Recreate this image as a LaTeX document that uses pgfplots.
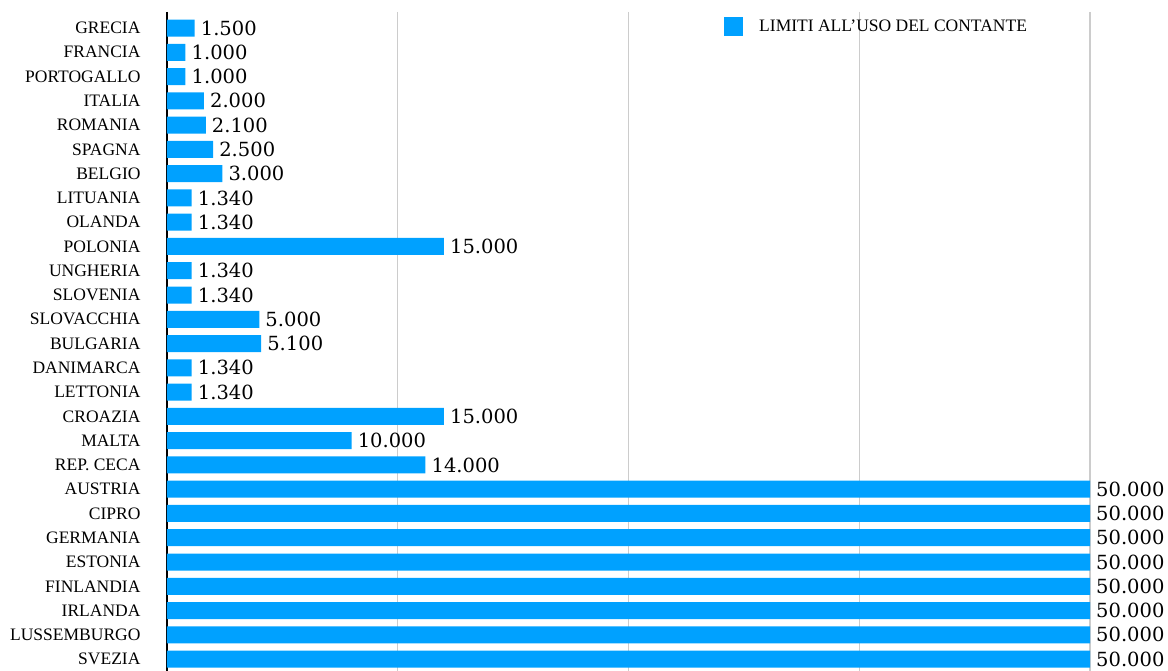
\documentclass[border=0pt]{standalone}
\usepackage{fontspec}
\usepackage{pgfplots}
\usepackage{pgfplotstable}
\pgfplotsset{compat=1.18}
\setmainfont{Liberation Serif}
\newfontfamily\numfont{DejaVu Serif}
\definecolor{barblue}{RGB}{0,161,255}
\definecolor{gridgray}{RGB}{204,204,204}
\pgfplotstableread[col sep=comma]{
idx,val
0,1500
1,1000
2,1000
3,2000
4,2100
5,2500
6,3000
7,1340
8,1340
9,15000
10,1340
11,1340
12,5000
13,5100
14,1340
15,1340
16,15000
17,10000
18,14000
19,50000
20,50000
21,50000
22,50000
23,50000
24,50000
25,50000
26,50000
}\datatable
\begin{document}
\begin{tikzpicture}
\begin{axis}[
  scale only axis,
  width=923pt, height=659pt,
  at={(0,0)}, anchor=south west,
  xbar, bar width=17pt,
  xmin=0, xmax=50000,
  ymin=-0.66, ymax=26.49,
  y dir=reverse,
  clip=false,
  axis lines*=left,
  x axis line style={draw=none},
  y axis line style={black, line width=2pt},
  xtick={12500,25000,37500,50000},
  xticklabels={},
  xmajorgrids,
  major grid style={gridgray, line width=1.3pt},
  major tick length=0pt,
  ytick={0,...,26},
  yticklabels={GRECIA,FRANCIA,PORTOGALLO,ITALIA,ROMANIA,SPAGNA,BELGIO,LITUANIA,OLANDA,POLONIA,UNGHERIA,SLOVENIA,SLOVACCHIA,BULGARIA,DANIMARCA,LETTONIA,CROAZIA,MALTA,REP. CECA,AUSTRIA,CIPRO,GERMANIA,ESTONIA,FINLANDIA,IRLANDA,LUSSEMBURGO,SVEZIA},
  yticklabel style={font=\fontsize{17.5}{20}\selectfont, anchor=east, xshift=-23pt},
  /pgf/number format/.cd, 1000 sep={.}, fixed, precision=0, assume math mode=true,
  /pgfplots/.cd,
  nodes near coords,
  nodes near coords style={font=\numfont\fontsize{19.5}{20}\selectfont, anchor=west, black, inner sep=1pt, xshift=5pt},
  legend style={draw=none, fill=none, at={(0.6035,0.993)}, anchor=north west, font=\fontsize{17.5}{20}\selectfont, inner sep=0pt, row sep=0pt},
  legend image code/.code={\fill[barblue] (0pt,-9.5pt) rectangle (19pt,9.5pt);},
  legend cell align=left,
]
\addplot[fill=barblue, draw=none] table[x=val, y=idx] {\datatable};
\addlegendentry{\hspace{14pt}LIMITI ALL’USO DEL CONTANTE}
\end{axis}
\pgfresetboundingbox
\path (-167pt,0pt) rectangle (1001pt,671pt);
\end{tikzpicture}
\end{document}
